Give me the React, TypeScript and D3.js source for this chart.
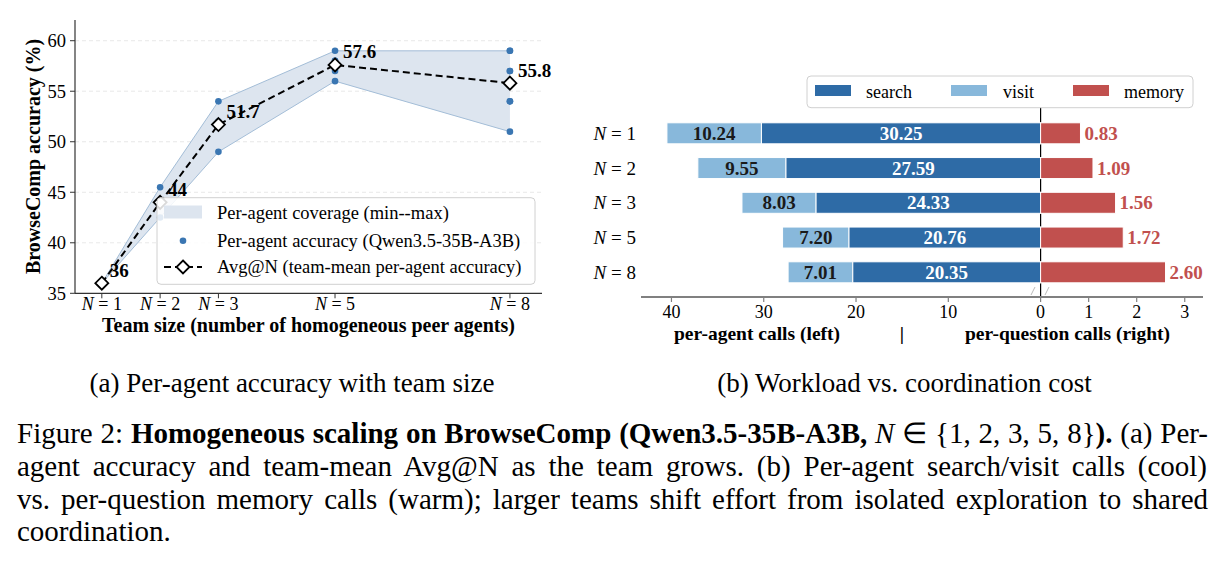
import React, { useLayoutEffect, useRef } from "react";
import * as d3 from "d3";

// ---- panel (a) data ----
const teamSizes = [1, 2, 3, 5, 8];
const agentAcc = [
  [36],
  [45.5, 42.5],
  [54, 52, 49],
  [59, 58, 58, 57, 56],
  [59, 59, 57, 57, 56, 54, 54, 51],
];
const avgAcc = [36, 44, 51.7, 57.6, 55.8];
const yTicksA = [35, 40, 45, 50, 55, 60];

// ---- panel (b) data ----
const rowSizes = [1, 2, 3, 5, 8];
const searchCalls = [30.25, 27.59, 24.33, 20.76, 20.35];
const visitCalls = [10.24, 9.55, 8.03, 7.2, 7.01];
const memoryCalls = [0.83, 1.09, 1.56, 1.72, 2.6];
const leftTicks = [40, 30, 20, 10, 0];
const rightTicks = [1, 2, 3];

const SERIF = "'Liberation Serif', 'Times New Roman', serif";
const C_SEARCH = "#2e6ba6";
const C_VISIT = "#88b8db";
const C_MEM = "#c1504e";
const C_DOT = "#3a76b2";
const C_BAND = "#dde5ef";
const C_BAND_EDGE = "#a3bdd7";

function Diamond({ x, y, r = 6.5 }: { x: number; y: number; r?: number }) {
  return (
    <path
      d={`M${x},${y - r}L${x + r},${y}L${x},${y + r}L${x - r},${y}Z`}
      fill="#fff"
      stroke="#000"
      strokeWidth={1.8}
    />
  );
}

function NLabel({ n, ...rest }: any) {
  return (
    <text {...rest}>
      <tspan fontStyle="italic">N</tspan> = {n}
    </text>
  );
}

// justified caption line: spread the slack over the word gaps, like TeX
function JLine({ x, y, width, children }: any) {
  const ref = useRef<SVGTextElement>(null);
  useLayoutEffect(() => {
    const el = ref.current;
    if (!el) return;
    el.setAttribute("word-spacing", "0");
    const natural = el.getComputedTextLength();
    const gaps = (el.textContent || "").split(" ").length - 1;
    if (gaps > 0) el.setAttribute("word-spacing", String((width - natural) / gaps));
  }, [width]);
  return (
    <text ref={ref} x={x} y={y}>
      {children}
    </text>
  );
}

function PanelA() {
  const x = d3.scaleLinear().domain([0.54, 8.55]).range([75, 542]);
  const y = d3.scaleLinear().domain([35, 62.05]).range([293.3, 20]);

  const bandData = teamSizes.map((n, i) => ({
    n,
    lo: d3.min(agentAcc[i]) as number,
    hi: d3.max(agentAcc[i]) as number,
  }));
  const area = d3
    .area<any>()
    .x((d) => x(d.n))
    .y0((d) => y(d.lo))
    .y1((d) => y(d.hi));
  const upper = d3.line<any>().x((d) => x(d.n)).y((d) => y(d.hi));
  const lower = d3.line<any>().x((d) => x(d.n)).y((d) => y(d.lo));
  const avgLine = d3
    .line<number>()
    .x((_, i) => x(teamSizes[i]))
    .y((d) => y(d));

  const [x0, x1] = x.range();
  const [yb, yt] = y.range();

  return (
    <g fontFamily={SERIF}>
      {/* grid */}
      {yTicksA.slice(1).map((t) => (
        <line key={t} x1={x0} x2={x1} y1={y(t)} y2={y(t)} stroke="#e2e2e2" strokeDasharray="4,3" strokeWidth={0.8} />
      ))}
      <path d={area(bandData) || ""} fill={C_BAND} />
      <path d={upper(bandData) || ""} fill="none" stroke={C_BAND_EDGE} strokeWidth={1} />
      <path d={lower(bandData) || ""} fill="none" stroke={C_BAND_EDGE} strokeWidth={1} />
      {agentAcc.map((vals, i) =>
        vals.map((v, j) => <circle key={`${i}-${j}`} cx={x(teamSizes[i])} cy={y(v)} r={3.3} fill={C_DOT} />)
      )}
      <path d={avgLine(avgAcc) || ""} fill="none" stroke="#000" strokeWidth={2} strokeDasharray="7,4" />
      {avgAcc.map((v, i) => (
        <Diamond key={i} x={x(teamSizes[i])} y={y(v)} />
      ))}
      {avgAcc.map((v, i) => (
        <text key={i} x={x(teamSizes[i]) + 8} y={y(v) - 6.5} fontSize={19} fontWeight="bold">
          {v}
        </text>
      ))}

      {/* spines */}
      <line x1={x0} x2={x0} y1={yt} y2={yb} stroke="#333" strokeWidth={1.2} />
      <line x1={x0} x2={x1} y1={yb} y2={yb} stroke="#333" strokeWidth={1.2} />
      {yTicksA.map((t) => (
        <g key={t}>
          <line x1={x0 - 5} x2={x0} y1={y(t)} y2={y(t)} stroke="#333" strokeWidth={1} />
          <text x={x0 - 9} y={y(t) + 6.5} textAnchor="end" fontSize={18.5}>
            {t}
          </text>
        </g>
      ))}
      {teamSizes.map((n) => (
        <g key={n}>
          <line x1={x(n)} x2={x(n)} y1={yb} y2={yb + 5} stroke="#333" strokeWidth={1} />
          <NLabel n={n} x={x(n)} y={309.5} textAnchor="middle" fontSize={18} />
        </g>
      ))}
      <text x={(x0 + x1) / 2} y={331.5} textAnchor="middle" fontSize={20} fontWeight="bold">
        Team size (number of homogeneous peer agents)
      </text>
      <text transform="translate(40,156.5) rotate(-90)" textAnchor="middle" fontSize={20} fontWeight="bold">
        BrowseComp accuracy (%)
      </text>

      {/* legend */}
      <g>
        <rect x={157} y={197.7} width={378} height={86.6} rx={4} fill="#fff" fillOpacity={0.85} stroke="#d0d0d0" />
        <rect x={164} y={205.5} width={38} height={13} fill={C_BAND} />
        <text x={217} y={219} fontSize={18.5}>Per-agent coverage (min--max)</text>
        <circle cx={183} cy={240.7} r={3.3} fill={C_DOT} />
        <text x={217} y={246.5} fontSize={18.5}>Per-agent accuracy (Qwen3.5-35B-A3B)</text>
        <line x1={164} x2={202} y1={267} y2={267} stroke="#000" strokeWidth={2} strokeDasharray="7,4" />
        <Diamond x={183} y={267} />
        <text x={217} y={273} fontSize={18.5}>Avg@N (team-mean per-agent accuracy)</text>
      </g>
    </g>
  );
}

function PanelB() {
  const zero = 1040.6;
  const xl = d3.scaleLinear().domain([0, 43.3]).range([zero, 641]);
  const xr = d3.scaleLinear().domain([0, 3.38]).range([zero, 1203]);
  const y = d3.scalePoint<number>().domain(rowSizes).range([133.3, 272.3]);
  const barH = 21;
  const axisY = 297;

  return (
    <g fontFamily={SERIF}>
      <line x1={zero} x2={zero} y1={95} y2={axisY} stroke="#000" strokeWidth={1.2} />
      {rowSizes.map((n, i) => {
        const cy = y(n) as number;
        const s = searchCalls[i];
        const v = visitCalls[i];
        const m = memoryCalls[i];
        return (
          <g key={n}>
            <rect x={xl(s + v)} y={cy - barH / 2} width={xl(s) - xl(s + v)} height={barH} fill={C_VISIT} stroke="#fff" strokeWidth={1} />
            <rect x={xl(s)} y={cy - barH / 2} width={xl(0) - xl(s)} height={barH} fill={C_SEARCH} stroke="#fff" strokeWidth={1} />
            <rect x={xr(0)} y={cy - barH / 2} width={xr(m) - xr(0)} height={barH} fill={C_MEM} stroke="#fff" strokeWidth={1} />
            <text x={(xl(s) + xl(s + v)) / 2} y={cy + 6.5} textAnchor="middle" fontSize={19} fontWeight="bold" fill="#1a1a1a">
              {v.toFixed(2)}
            </text>
            <text x={(xl(0) + xl(s)) / 2} y={cy + 6.5} textAnchor="middle" fontSize={19} fontWeight="bold" fill="#fff">
              {s.toFixed(2)}
            </text>
            <text x={xr(m) + 4} y={cy + 6.5} fontSize={19} fontWeight="bold" fill={C_MEM}>
              {m.toFixed(2)}
            </text>
            <NLabel n={n} x={636} y={cy + 6.5} textAnchor="end" fontSize={19} />
          </g>
        );
      })}
      {/* break marks */}
      <line x1={1031} x2={1035} y1={295} y2={287} stroke="#bbb" strokeWidth={1} />
      <line x1={1045} x2={1049} y1={295} y2={287} stroke="#bbb" strokeWidth={1} />
      {/* bottom axis */}
      <line x1={641} x2={1203} y1={axisY} y2={axisY} stroke="#808080" strokeWidth={2} />
      {leftTicks.map((t) => (
        <g key={`l${t}`}>
          <line x1={xl(t)} x2={xl(t)} y1={axisY} y2={axisY + 5} stroke="#808080" strokeWidth={1.2} />
          <text x={xl(t)} y={318} textAnchor="middle" fontSize={18}>
            {t}
          </text>
        </g>
      ))}
      {rightTicks.map((t) => (
        <g key={`r${t}`}>
          <line x1={xr(t)} x2={xr(t)} y1={axisY} y2={axisY + 5} stroke="#808080" strokeWidth={1.2} />
          <text x={xr(t)} y={318} textAnchor="middle" fontSize={18}>
            {t}
          </text>
        </g>
      ))}
      <g fontSize={19.5} fontWeight="bold" textAnchor="middle">
        <text x={757} y={340}>per-agent calls (left)</text>
        <text x={902} y={340}>|</text>
        <text x={1067.5} y={340}>per-question calls (right)</text>
      </g>
      {/* legend */}
      <g>
        <rect x={807} y={76} width={386} height={31.7} rx={4} fill="#fff" stroke="#d0d0d0" />
        <rect x={815} y={85} width={36} height={11} fill={C_SEARCH} />
        <text x={866} y={97.5} fontSize={18}>search</text>
        <rect x={951} y={85} width={36} height={11} fill={C_VISIT} />
        <text x={1003} y={97.5} fontSize={18}>visit</text>
        <rect x={1073} y={85} width={36} height={11} fill={C_MEM} />
        <text x={1124} y={97.5} fontSize={18}>memory</text>
      </g>
    </g>
  );
}

export default function App() {
  return (
    <svg
      width={1224}
      height={565}
      viewBox="0 0 1224 565"
      style={{ position: "absolute", left: 0, top: 0, background: "#fff" }}
      fontFamily={SERIF}
    >
      <rect width={1224} height={565} fill="#fff" />
      <PanelA />
      <PanelB />
      <text x={292} y={392} textAnchor="middle" fontSize={27}>
        (a) Per-agent accuracy with team size
      </text>
      <text x={904.5} y={392} textAnchor="middle" fontSize={27}>
        (b) Workload vs. coordination cost
      </text>
      <g fontSize={29}>
        <JLine x={17} y={443} width={1191}>
          Figure 2: <tspan fontWeight="bold">Homogeneous scaling on BrowseComp (Qwen3.5-35B-A3B, </tspan>
          <tspan fontStyle="italic">N</tspan> ∈ {"{"}1, 2, 3, 5, 8{"}"}
          <tspan fontWeight="bold">).</tspan> (a) Per-
        </JLine>
        <JLine x={17} y={476} width={1190}>
          agent accuracy and team-mean Avg@N as the team grows. (b) Per-agent search/visit calls (cool)
        </JLine>
        <JLine x={17} y={508.5} width={1191}>
          vs. per-question memory calls (warm); larger teams shift effort from isolated exploration to shared
        </JLine>
        <text x={17} y={541}>coordination.</text>
      </g>
    </svg>
  );
}
